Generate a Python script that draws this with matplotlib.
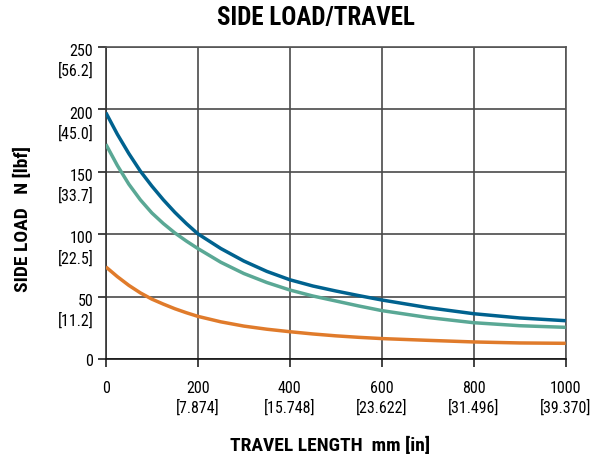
import matplotlib.pyplot as plt
from matplotlib.transforms import ScaledTranslation

plt.rcParams['font.family'] = ['Roboto Condensed', 'DejaVu Sans']

# travel length (mm) and side load (N)
travel = [0, 25, 50, 75, 100, 125, 150, 175, 200, 250, 300, 350, 400, 450, 500,
          550, 600, 700, 800, 900, 1000]
load_blue = [197.3, 180, 164.5, 150.5, 138.5, 127.5, 117.5, 108.5, 100.3, 88.5, 78.5,
             70.2, 63.5, 58.5, 54.5, 50.8, 47.3, 41.2, 36.3, 32.9, 30.7]
load_teal = [172, 155, 140, 127.5, 117, 108.5, 101, 94.5, 88.5, 77.5, 68.5,
             61.3, 55.3, 50.5, 46.5, 42.5, 38.8, 33.3, 29.1, 26.7, 25.4]
load_orange = [73.8, 66, 59, 53, 48, 44, 40.3, 37.1, 34.2, 29.8, 26.4,
               23.9, 21.9, 20.1, 18.6, 17.4, 16.4, 15, 13.7, 12.9, 12.6]

x_ticks = [0, 200, 400, 600, 800, 1000]
x_labels = ['0', '200\n[7.874]', '400\n[15.748]', '600\n[23.622]', '800\n[31.496]', '1000\n[39.370]']
y_ticks = [0, 50, 100, 150, 200, 250]
y_labels = ['0', '50\n[11.2]', '100\n[22.5]', '150\n[33.7]', '200\n[45.0]', '250\n[56.2]']

fig = plt.figure(figsize=(5.98, 4.64), dpi=100)
ax = fig.add_axes([0.177, 0.224, 0.769, 0.673])

for vals, col in [(load_blue, '#00628f'), (load_teal, '#5aa895'), (load_orange, '#e07b2b')]:
    ax.plot(travel, vals, color=col, lw=2.5, solid_capstyle='butt',
            solid_joinstyle='round', zorder=3)

ax.set_xlim(0, 1000)
ax.set_ylim(0, 250)
ax.set_xticks(x_ticks)
ax.set_xticklabels(x_labels, fontsize=11.5, linespacing=1.3)
ax.set_yticks(y_ticks)
ax.set_yticklabels(y_labels, fontsize=11.5, linespacing=1.3)
ax.tick_params(direction='out', length=6, width=1.2, color='#222', pad=3)
ax.tick_params(axis='x', pad=9)

# two-line y labels: put the newton value level with its tick
shift = ScaledTranslation(0, -7.5 / 72, fig.dpi_scale_trans)
for lab in ax.get_yticklabels():
    if '\n' in lab.get_text():
        lab.set_transform(lab.get_transform() + shift)

ax.grid(True, color='#4a4a4a', lw=1.2)
ax.set_axisbelow(True)
for s in ax.spines.values():
    s.set_color('#555')
    s.set_linewidth(1.2)
ax.spines['bottom'].set_color('#111')
ax.spines['left'].set_color('#333')

fig.text(0.528, 0.961, 'SIDE LOAD/TRAVEL', ha='center', va='center',
         fontsize=18, fontweight='bold')
fig.text(0.552, 0.039, 'TRAVEL LENGTH  mm [in]', ha='center', va='center',
         fontsize=14, fontweight='bold')
fig.text(0.038, 0.529, 'SIDE LOAD   N [lbf]', ha='center', va='center',
         rotation=90, fontsize=14, fontweight='bold')

plt.savefig('out.png', dpi=100)
plt.close()
